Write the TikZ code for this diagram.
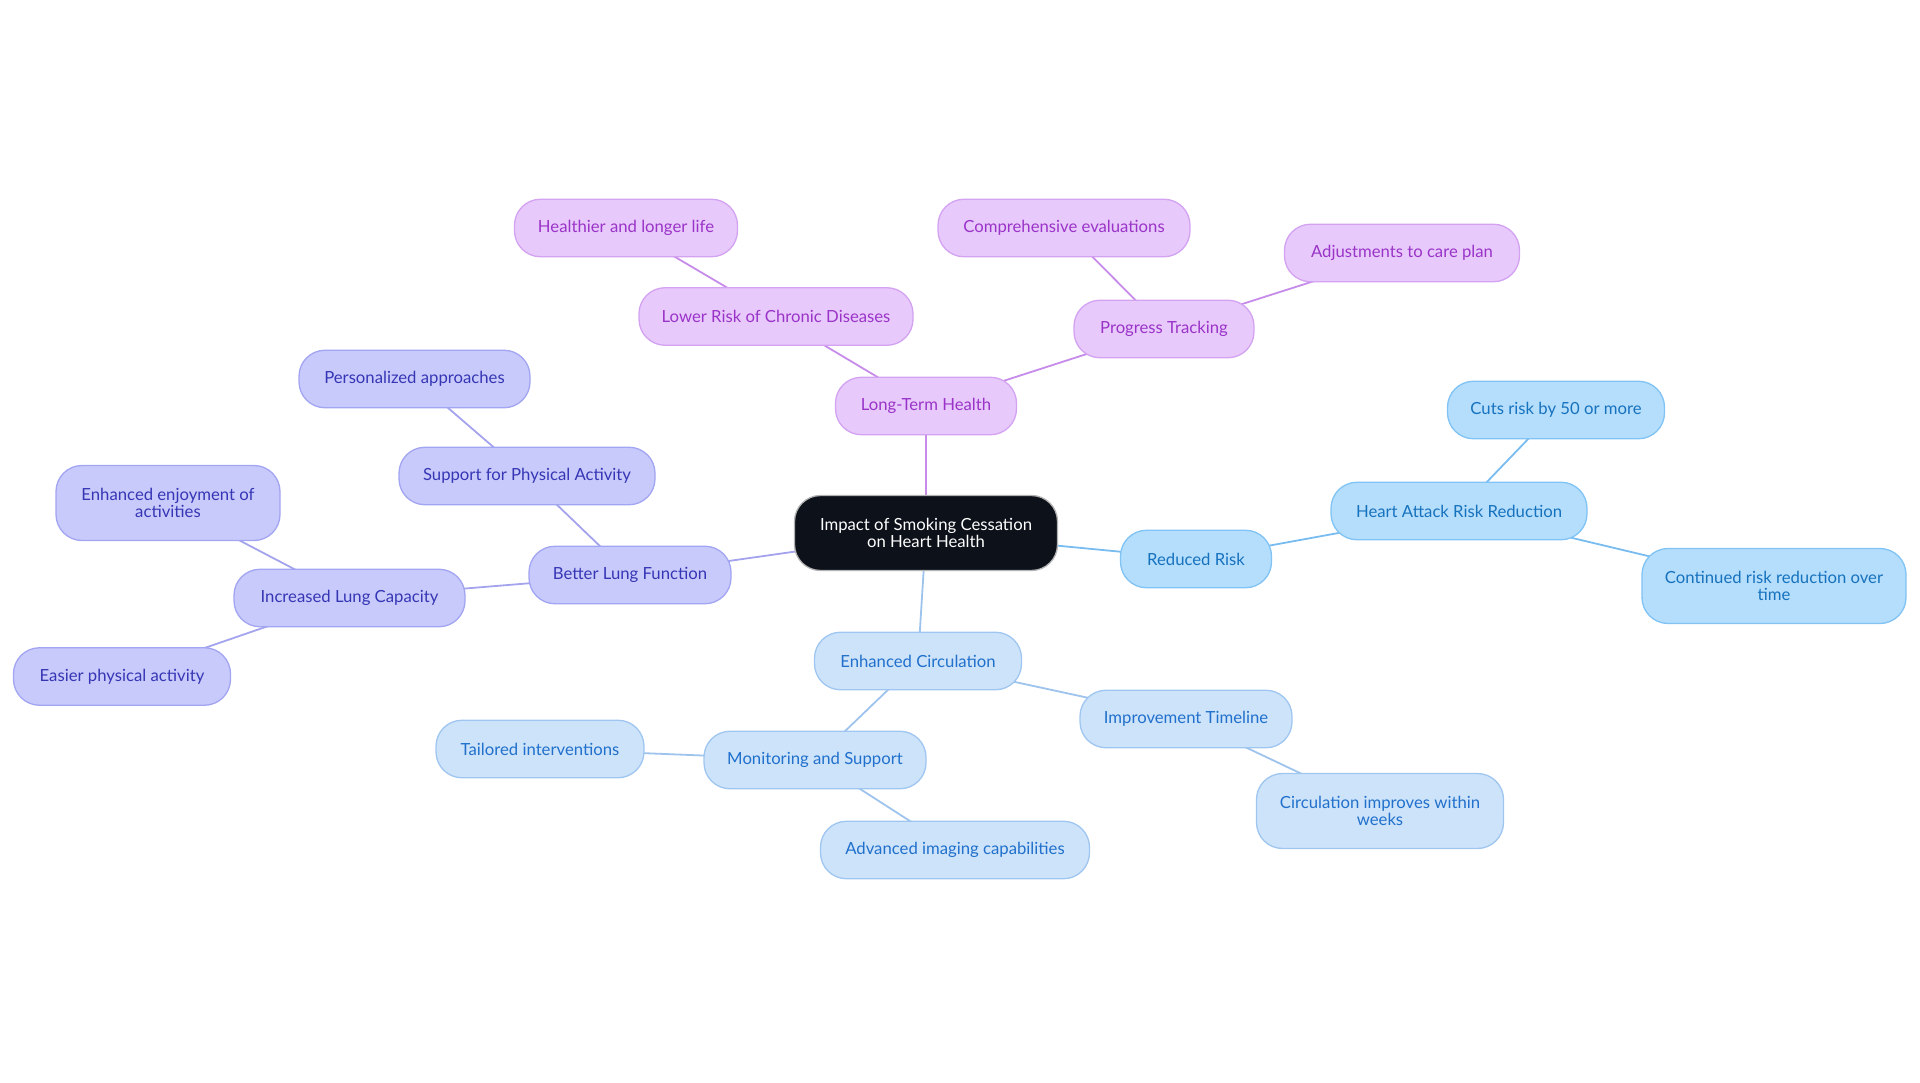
\documentclass[tikz,border=0pt]{standalone}
\usepackage{fontspec}
\setmainfont{Lato}
\usetikzlibrary{backgrounds}
\definecolor{pfill}{HTML}{E8C9FB}\definecolor{pdraw}{HTML}{D3A3F2}\definecolor{ptext}{HTML}{9A34C8}\definecolor{pedge}{HTML}{C78BEA}
\definecolor{bfill}{HTML}{B4DEFC}\definecolor{bdraw}{HTML}{80C3F4}\definecolor{btext}{HTML}{1772BE}\definecolor{bedge}{HTML}{78BCF0}
\definecolor{lfill}{HTML}{C8CAFB}\definecolor{ldraw}{HTML}{A2A5F1}\definecolor{ltext}{HTML}{3636B5}\definecolor{ledge}{HTML}{A4A4EE}
\definecolor{cfill}{HTML}{CDE3FA}\definecolor{cdraw}{HTML}{9FC6F0}\definecolor{ctext}{HTML}{2070CC}\definecolor{cedge}{HTML}{9EC3EC}
\definecolor{rootfill}{HTML}{0D111A}
\tikzset{
  box/.style={rounded corners=26pt, line width=1.3pt, minimum height=57.5pt, inner sep=0pt, align=center, font=\fontsize{16.7}{17.5}\selectfont},
  twoline/.style={minimum height=75pt},
  pnode/.style={box, fill=pfill, draw=pdraw, text=ptext},
  bnode/.style={box, fill=bfill, draw=bdraw, text=btext},
  lnode/.style={box, fill=lfill, draw=ldraw, text=ltext},
  cnode/.style={box, fill=cfill, draw=cdraw, text=ctext},
  rootnode/.style={box, fill=rootfill, draw=gray!60, text=white, minimum height=75pt},
  edge/.style={line width=1.8pt}
}
\begin{document}
\begin{tikzpicture}[x=1pt,y=-1pt]
\useasboundingbox (0,0) rectangle (1920,1083);
\node[rootnode, minimum width=263pt] (root) at (926,533) {Impact of Smoking Cessation\\on Heart Health};
% purple
\node[pnode, minimum width=181pt] (lth) at (926,406) {Long-Term Health};
\node[pnode, minimum width=274pt] (lrc) at (776,316.5) {Lower Risk of Chronic Diseases};
\node[pnode, minimum width=223pt] (hll) at (626,228) {Healthier and longer life};
\node[pnode, minimum width=180pt] (pt) at (1164,329) {Progress Tracking};
\node[pnode, minimum width=252pt] (ce) at (1064,228) {Comprehensive evaluations};
\node[pnode, minimum width=235pt] (acp) at (1402,253) {Adjustments to care plan};
% blue
\node[bnode, minimum width=151pt] (rr) at (1196,559) {Reduced Risk};
\node[bnode, minimum width=256pt] (har) at (1459,511) {Heart Attack Risk Reduction};
\node[bnode, minimum width=217pt] (cut) at (1556,410) {Cuts risk by 50 or more};
\node[bnode, twoline, minimum width=264pt] (crr) at (1774,586) {Continued risk reduction over\\time};
% circulation
\node[cnode, minimum width=207pt] (ec) at (918,661) {Enhanced Circulation};
\node[cnode, minimum width=212pt] (it) at (1186,719) {Improvement Timeline};
\node[cnode, twoline, minimum width=247pt] (ciw) at (1380,811) {Circulation improves within\\weeks};
\node[cnode, minimum width=222pt] (ms) at (815,760) {Monitoring and Support};
\node[cnode, minimum width=208pt] (ti) at (540,749) {Tailored interventions};
\node[cnode, minimum width=269pt] (aic) at (955,850) {Advanced imaging capabilities};
% lung
\node[lnode, minimum width=202pt] (blf) at (630,575) {Better Lung Function};
\node[lnode, minimum width=256pt] (spa) at (527,476) {Support for Physical Activity};
\node[lnode, minimum width=231pt] (pa) at (414.5,379) {Personalized approaches};
\node[lnode, minimum width=231pt] (ilc) at (349.5,598) {Increased Lung Capacity};
\node[lnode, twoline, minimum width=224pt] (eea) at (168,503) {Enhanced enjoyment of\\activities};
\node[lnode, minimum width=217pt] (epa) at (122,676.5) {Easier physical activity};
\begin{scope}[on background layer]
\draw[edge, pedge] (root.center) -- (lth.center);
\draw[edge, pedge] (lth.center) -- (lrc.center);
\draw[edge, pedge] (lrc.center) -- (hll.center);
\draw[edge, pedge] (lth.center) -- (pt.center);
\draw[edge, pedge] (pt.center) -- (ce.center);
\draw[edge, pedge] (pt.center) -- (acp.center);
\draw[edge, bedge] (root.center) -- (rr.center);
\draw[edge, bedge] (rr.center) -- (har.center);
\draw[edge, bedge] (har.center) -- (cut.center);
\draw[edge, bedge] (har.center) -- (crr.center);
\draw[edge, cedge] (root.center) -- (ec.center);
\draw[edge, cedge] (ec.center) -- (it.center);
\draw[edge, cedge] (it.center) -- (ciw.center);
\draw[edge, cedge] (ec.center) -- (ms.center);
\draw[edge, cedge] (ms.center) -- (ti.center);
\draw[edge, cedge] (ms.center) -- (aic.center);
\draw[edge, ledge] (root.center) -- (blf.center);
\draw[edge, ledge] (blf.center) -- (spa.center);
\draw[edge, ledge] (spa.center) -- (pa.center);
\draw[edge, ledge] (blf.center) -- (ilc.center);
\draw[edge, ledge] (ilc.center) -- (eea.center);
\draw[edge, ledge] (ilc.center) -- (epa.center);
\end{scope}
\end{tikzpicture}
\end{document}
